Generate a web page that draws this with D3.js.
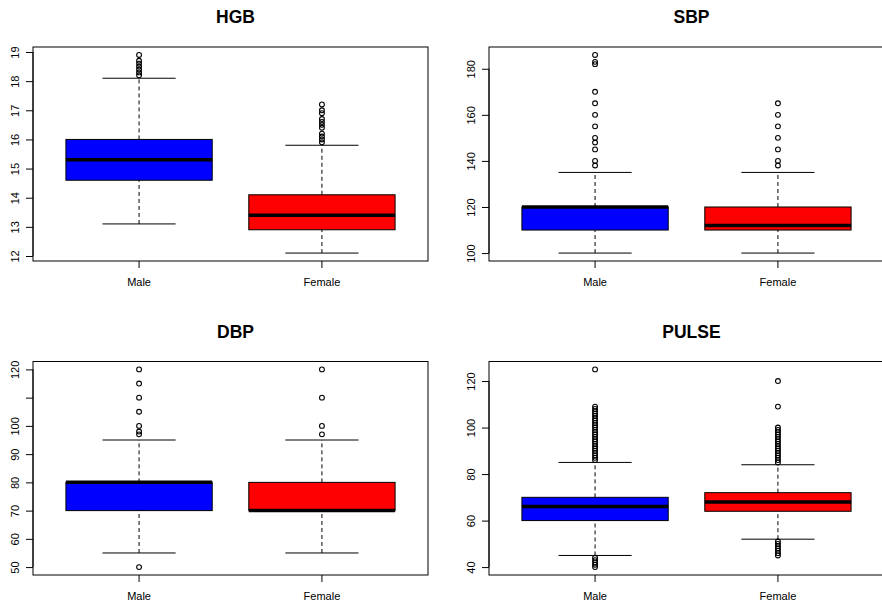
<!DOCTYPE html>
<html>
<head>
<meta charset="utf-8">
<script src="https://cdn.jsdelivr.net/npm/d3@7"></script>
<style>
  body { margin: 0; background: #fff; }
  text { font-family: "Liberation Sans", Arial, Helvetica, sans-serif; }
</style>
</head>
<body>
<div id="box"></div>
<script>
// groups and colours
var groups = ["Male", "Female"];
var boxColors = ["#0000ff", "#ff0000"];
var titles = ["HGB", "SBP", "DBP", "PULSE"];

// five-number summaries: [lower whisker, Q1, median, Q3, upper whisker]
var hgbStats = [[13.1, 14.6, 15.3, 16.0, 18.1], [12.1, 12.9, 13.4, 14.1, 15.8]];
var sbpStats = [[100, 110, 120, 120, 135], [100, 110, 112, 120, 135]];
var dbpStats = [[55, 70, 80, 80, 95], [55, 70, 70, 80, 95]];
var pulseStats = [[45, 60, 66, 70, 85], [52, 64, 68, 72, 84]];

// outliers
var hgbOut = [
    [18.2, 18.3, 18.4, 18.5, 18.6, 18.7, 18.9],
    [15.9, 16.0, 16.1, 16.2, 16.4, 16.5, 16.6, 16.7, 16.9, 17.0, 17.2]
];
var sbpOut = [
    [138, 140, 145, 148, 150, 155, 160, 165, 170, 182, 183, 186],
    [138, 140, 145, 150, 155, 160, 165]
];
var dbpOut = [
    [50, 97, 98, 100, 105, 110, 115, 120],
    [97, 100, 110, 120]
];
var pulseOut = [
    [40, 41, 42, 43, 44, 86, 87, 88, 89, 90, 91, 92, 93, 94, 95, 96, 97, 98, 99, 100,
     101, 102, 103, 104, 105, 106, 107, 108, 109, 125],
    [45, 46, 47, 48, 49, 50, 51, 85, 86, 87, 88, 89, 90, 91, 92, 93, 94, 95, 96, 97,
     98, 99, 100, 109, 120]
];

// y tick values and labels
var hgbTicks = [12, 13, 14, 15, 16, 17, 18, 19];
var sbpTicks = [100, 120, 140, 160, 180];
var dbpTicks = [50, 60, 70, 80, 90, 100, 110, 120];
var dbpLabels = ["50", "60", "70", "80", "90", "100", "", "120"];
var pulseTicks = [40, 60, 80, 100, 120];

var panels = [
    { title: titles[0], stats: hgbStats, out: hgbOut, ticks: hgbTicks, labels: null },
    { title: titles[1], stats: sbpStats, out: sbpOut, ticks: sbpTicks, labels: null },
    { title: titles[2], stats: dbpStats, out: dbpOut, ticks: dbpTicks, labels: dbpLabels },
    { title: titles[3], stats: pulseStats, out: pulseOut, ticks: pulseTicks, labels: null }
];

var width = 882, height = 604;
var svg = d3.select("#box").append("svg")
    .attr("width", width)
    .attr("height", height);

// plot regions (left, right, top, bottom)
var regions = [
    { l: 33, r: 428, t: 47, b: 261, ty: 23 },
    { l: 489, r: 884, t: 47, b: 261, ty: 23 },
    { l: 33, r: 428, t: 361.5, b: 575, ty: 338 },
    { l: 489, r: 884, t: 361.5, b: 575, ty: 338 }
];

panels.forEach(function(p, i) {
    var reg = regions[i];
    var g = svg.append("g");

    // R style: extend the data range by 4%
    var all = [];
    p.stats.forEach(function(s) { all = all.concat(s); });
    p.out.forEach(function(o) { all = all.concat(o); });
    var lo = d3.min(all), hi = d3.max(all);
    var pad = (hi - lo) * 0.04;

    var y = d3.scaleLinear().domain([lo - pad, hi + pad]).range([reg.b, reg.t]);
    var x = d3.scaleLinear().domain([0.42, 2.58]).range([reg.l, reg.r]);

    // title
    g.append("text")
        .attr("x", (reg.l + reg.r) / 2 + 5)
        .attr("y", reg.ty)
        .attr("text-anchor", "middle")
        .attr("font-size", 17.5)
        .attr("font-weight", "bold")
        .text(p.title);

    groups.forEach(function(name, k) {
        var s = p.stats[k];
        var cx = x(k + 1);
        var bw = x(1.4) - x(1);
        var cw = x(1.2) - x(1);

        // whiskers
        g.append("line")
            .attr("x1", cx).attr("x2", cx)
            .attr("y1", y(s[0])).attr("y2", y(s[1]))
            .attr("stroke", "#000").attr("stroke-dasharray", "4,3");
        g.append("line")
            .attr("x1", cx).attr("x2", cx)
            .attr("y1", y(s[3])).attr("y2", y(s[4]))
            .attr("stroke", "#000").attr("stroke-dasharray", "4,3");
        [s[0], s[4]].forEach(function(v) {
            g.append("line")
                .attr("x1", cx - cw).attr("x2", cx + cw)
                .attr("y1", y(v)).attr("y2", y(v))
                .attr("stroke", "#000");
        });

        // box
        g.append("rect")
            .attr("x", cx - bw)
            .attr("y", y(s[3]))
            .attr("width", bw * 2)
            .attr("height", y(s[1]) - y(s[3]))
            .attr("fill", boxColors[k])
            .attr("stroke", "#000");

        // median
        g.append("line")
            .attr("x1", cx - bw).attr("x2", cx + bw)
            .attr("y1", y(s[2])).attr("y2", y(s[2]))
            .attr("stroke", "#000").attr("stroke-width", 3.5);

        // outliers
        g.selectAll(".out" + k)
            .data(p.out[k])
            .enter()
            .append("circle")
            .attr("cx", cx)
            .attr("cy", function(d) { return y(d); })
            .attr("r", 2.4)
            .attr("fill", "none")
            .attr("stroke", "#000")
            .attr("stroke-width", 1.1);

        // x tick and label
        g.append("line")
            .attr("x1", cx).attr("x2", cx)
            .attr("y1", reg.b).attr("y2", reg.b + 7)
            .attr("stroke", "#000");
        g.append("text")
            .attr("x", cx)
            .attr("y", reg.b + 25)
            .attr("text-anchor", "middle")
            .attr("font-size", 11)
            .text(name);
    });

    // y axis
    var yAxis = d3.axisLeft(y)
        .tickValues(p.ticks)
        .tickSize(7)
        .tickFormat(function(d, j) { return p.labels ? p.labels[j] : d; });
    var ax = g.append("g")
        .attr("transform", "translate(" + reg.l + ",0)")
        .call(yAxis);
    ax.select(".domain")
        .attr("d", "M0," + y(p.ticks[0]) + "V" + y(p.ticks[p.ticks.length - 1]));
    ax.selectAll(".tick line").attr("stroke", "#000");
    ax.selectAll(".tick text")
        .attr("font-size", 11)
        .attr("fill", "#000")
        .attr("font-family", "Liberation Sans, Arial, sans-serif")
        .attr("text-anchor", "middle")
        .attr("dy", null)
        .attr("x", null)
        .attr("transform", "translate(-18.5,0) rotate(-90)")
        .attr("dominant-baseline", "central");

    // plot frame
    g.append("rect")
        .attr("x", reg.l).attr("y", reg.t)
        .attr("width", reg.r - reg.l)
        .attr("height", reg.b - reg.t)
        .attr("fill", "none")
        .attr("stroke", "#000");
});
</script>
</body>
</html>
